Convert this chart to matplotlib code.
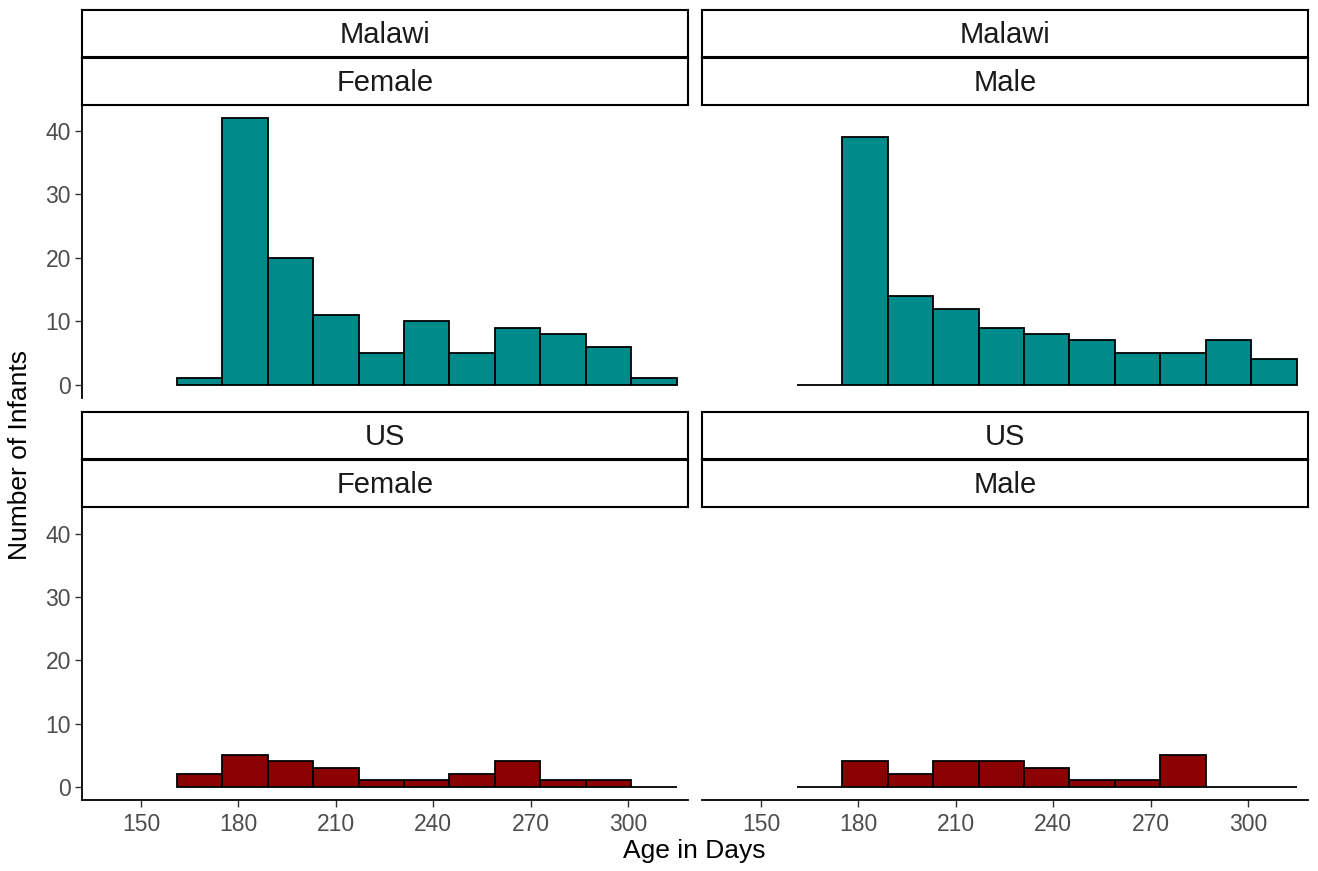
import numpy as np
import matplotlib.pyplot as plt

# histogram data (binwidth 14 days)
bin_start = 161
bin_width = 14
malawi_female = [1, 42, 20, 11, 5, 10, 5, 9, 8, 6, 1]
malawi_male = [0, 39, 14, 12, 9, 8, 7, 5, 5, 7, 4]
us_female = [2, 5, 4, 3, 1, 1, 2, 4, 1, 1, 0]
us_male = [0, 4, 2, 4, 4, 3, 1, 1, 5, 0, 0]

x_ticks = [150, 180, 210, 240, 270, 300]
y_ticks = [0, 10, 20, 30, 40]

plt.rcParams['font.family'] = ['Liberation Sans', 'DejaVu Sans']

W, H = 1318, 871
fig = plt.figure(figsize=(W / 100, H / 100), dpi=100)


def px_axes(x0, y0, x1, y1):
    return fig.add_axes([x0 / W, 1 - y1 / H, (x1 - x0) / W, (y1 - y0) / H])


def strip(x0, y0, x1, y1, label):
    s = px_axes(x0, y0, x1, y1)
    s.set_xticks([])
    s.set_yticks([])
    for sp in s.spines.values():
        sp.set_linewidth(1.5)
        sp.set_color('black')
    s.text(0.5, 0.47, label, ha='center', va='center', fontsize=21, color='#1A1A1A',
           transform=s.transAxes)


panels = [
    (82, 688, 105, 398, malawi_female, '#008B8B', 'Malawi', 'Female', 10, True, False),
    (702, 1308, 105, 398, malawi_male, '#008B8B', 'Malawi', 'Male', 10, False, False),
    (82, 688, 508, 800, us_female, '#8B0000', 'US', 'Female', 412, True, True),
    (702, 1308, 508, 800, us_male, '#8B0000', 'US', 'Male', 412, False, True),
]

edges = bin_start + bin_width * np.arange(len(malawi_female))

for x0, x1, y0, y1, counts, col, c1, c2, sy, show_y, show_x in panels:
    ax = px_axes(x0, y0, x1, y1)
    ax.bar(edges, counts, width=bin_width, align='edge', color=col,
           edgecolor='black', linewidth=1.3)
    ax.set_xlim(131.8, 318.5)
    ax.set_ylim(-2.1, 44.1)
    for sp in ['top', 'right']:
        ax.spines[sp].set_visible(False)
    ax.spines['left'].set_visible(show_y)
    ax.spines['bottom'].set_visible(show_x)
    for sp in ['left', 'bottom']:
        ax.spines[sp].set_linewidth(1.3)
    ax.set_xticks(x_ticks)
    ax.set_yticks(y_ticks)
    ax.tick_params(axis='x', bottom=show_x, labelbottom=show_x, length=5, width=1,
                   color='#333333', labelsize=16.5, labelcolor='#4D4D4D', pad=4)
    ax.tick_params(axis='y', left=show_y, labelleft=show_y, length=5, width=1,
                   color='#333333', labelsize=16.5, labelcolor='#4D4D4D', pad=3)
    strip(x0, sy, x1, sy + 47, c1)
    strip(x0, sy + 48, x1, sy + 95, c2)

fig.text(20 / W, 1 - 455 / H, 'Number of Infants', rotation=90, ha='center', va='center',
         fontsize=19)
fig.text(694 / W, 1 - 851 / H, 'Age in Days', ha='center', va='center', fontsize=19)

fig.savefig('out.png', dpi=100)
